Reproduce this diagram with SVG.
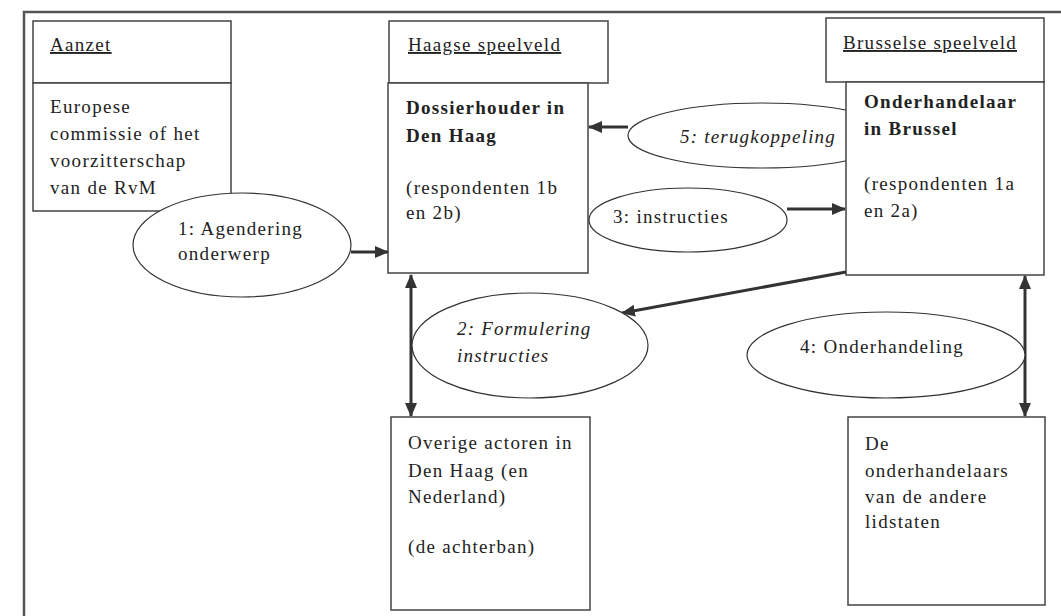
<svg xmlns="http://www.w3.org/2000/svg" width="1061" height="616" viewBox="0 0 1061 616">
<style>
  .box { fill: #fff; stroke: #444; stroke-width: 1.5; }
  .ell { fill: #fff; stroke: #333; stroke-width: 1.2; }
  .t { font-family: "Liberation Serif", "Times New Roman", serif; font-size: 19px; letter-spacing: 1.3px; fill: #222; }
  .b { font-weight: bold; letter-spacing: 1.3px; }
  .i { font-style: italic; letter-spacing: 1.2px; }
  .u { text-decoration: underline; }
  .conn { stroke: #333; stroke-width: 3; fill: none; }
</style>
<defs>
  <marker id="ah" markerUnits="userSpaceOnUse" markerWidth="14" markerHeight="12" refX="13" refY="6" orient="auto-start-reverse">
    <path d="M0,0 L14,6 L0,12 Z" fill="#333"/>
  </marker>
</defs>
<rect x="0" y="0" width="1061" height="616" fill="#fff"/>
<path d="M24,616 L24,12 L1061,12" fill="none" stroke="#555" stroke-width="2.5"/>

<g id="ellipse5">
  <ellipse class="ell" cx="762" cy="135.5" rx="134" ry="32.5"/>
  <text class="t i" x="680" y="143">5: terugkoppeling</text>
</g>

<g id="aanzet">
  <rect class="box" x="33" y="21" width="198" height="62"/>
  <text class="t u" x="50" y="51">Aanzet</text>
  <rect class="box" x="33" y="83" width="198" height="128"/>
  <text class="t" x="50" y="113">Europese</text>
  <text class="t" x="50" y="140">commissie of het</text>
  <text class="t" x="50" y="167">voorzitterschap</text>
  <text class="t" x="50" y="194">van de RvM</text>
</g>

<g id="haag">
  <rect class="box" x="389" y="21" width="219" height="62"/>
  <text class="t u" x="408" y="51">Haagse speelveld</text>
  <rect class="box" x="388" y="83" width="200" height="190"/>
  <text class="t b" x="406" y="114">Dossierhouder in</text>
  <text class="t b" x="406" y="142">Den Haag</text>
  <text class="t" x="406" y="194">(respondenten 1b</text>
  <text class="t" x="406" y="219">en 2b)</text>
</g>

<g id="brussel">
  <rect class="box" x="826" y="18" width="218" height="64"/>
  <text class="t u" x="843" y="49">Brusselse speelveld</text>
  <rect class="box" x="846" y="82" width="198" height="193"/>
  <text class="t b" x="864" y="108">Onderhandelaar</text>
  <text class="t b" x="864" y="135">in Brussel</text>
  <text class="t" x="864" y="190">(respondenten 1a</text>
  <text class="t" x="864" y="217">en 2a)</text>
</g>

<g id="overige">
  <rect class="box" x="391" y="417" width="199" height="193"/>
  <text class="t" x="408" y="449">Overige actoren in</text>
  <text class="t" x="408" y="477">Den Haag (en</text>
  <text class="t" x="408" y="503">Nederland)</text>
  <text class="t" x="408" y="553">(de achterban)</text>
</g>

<g id="lidstaten">
  <rect class="box" x="848" y="417" width="197" height="188"/>
  <text class="t" x="865" y="450">De</text>
  <text class="t" x="865" y="477">onderhandelaars</text>
  <text class="t" x="865" y="503">van de andere</text>
  <text class="t" x="865" y="528">lidstaten</text>
</g>

<g id="connectors">
  <line class="conn" x1="351" y1="252" x2="388" y2="252" marker-end="url(#ah)"/>
  <line class="conn" x1="628" y1="127" x2="589" y2="127" marker-end="url(#ah)"/>
  <line class="conn" x1="787" y1="209" x2="845" y2="209" marker-end="url(#ah)"/>
  <line class="conn" x1="846" y1="272" x2="622" y2="313" marker-end="url(#ah)"/>
  <line class="conn" x1="411" y1="275" x2="411" y2="416" marker-start="url(#ah)" marker-end="url(#ah)"/>
  <line class="conn" x1="1025" y1="276" x2="1025" y2="416" marker-start="url(#ah)" marker-end="url(#ah)"/>
</g>

<g id="ellipse1">
  <ellipse class="ell" cx="242" cy="245" rx="109" ry="52"/>
  <text class="t" x="178" y="235">1: Agendering</text>
  <text class="t" x="178" y="260">onderwerp</text>
</g>

<g id="ellipse3">
  <ellipse class="ell" cx="688" cy="220" rx="99" ry="32"/>
  <text class="t" x="613" y="223">3: instructies</text>
</g>

<g id="ellipse2">
  <ellipse class="ell" cx="530" cy="345.5" rx="118" ry="52.5"/>
  <text class="t i" x="457" y="335">2: Formulering</text>
  <text class="t i" x="457" y="362">instructies</text>
</g>

<g id="ellipse4">
  <ellipse class="ell" cx="886" cy="355" rx="139" ry="43"/>
  <text class="t" x="800" y="353">4: Onderhandeling</text>
</g>
</svg>
